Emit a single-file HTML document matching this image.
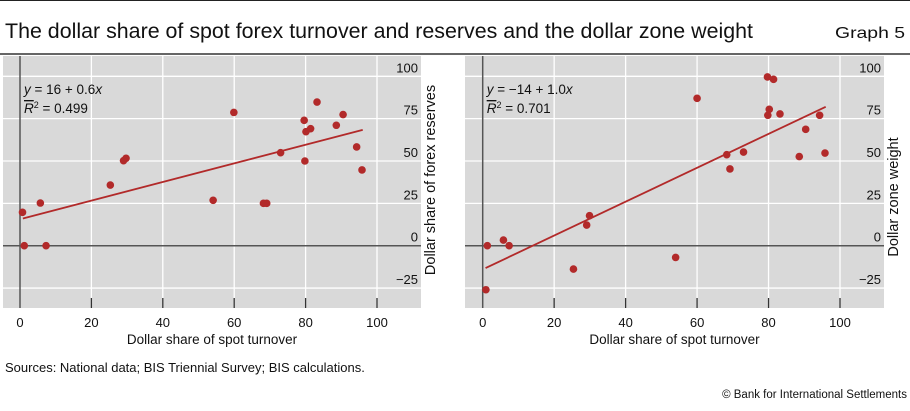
<!DOCTYPE html>
<html><head><meta charset="utf-8"><style>
body{margin:0;background:#fff;}
svg{display:block;font-family:"Liberation Sans",sans-serif;}
</style></head><body>
<svg id="chart" width="910" height="411" viewBox="0 0 910 411">
<line x1="0" y1="0.5" x2="910" y2="0.5" stroke="#222" stroke-width="1"/>
<text x="5" y="38" font-size="21" textLength="748" lengthAdjust="spacingAndGlyphs" fill="#111">The dollar share of spot forex turnover and reserves and the dollar zone weight</text>
<text x="905" y="38" font-size="16" text-anchor="end" textLength="70" lengthAdjust="spacingAndGlyphs" fill="#111">Graph 5</text>
<line x1="0" y1="54" x2="910" y2="54" stroke="#333" stroke-width="1.5"/>
<g id="p1"></g>
<g id="p2"></g>
<text x="5" y="372" font-size="13" fill="#111">Sources: National data; BIS Triennial Survey; BIS calculations.</text>
<text x="907" y="398" font-size="11.5" text-anchor="end" fill="#111">© Bank for International Settlements</text>
</svg>
<script>
const xTicks=[0,20,40,60,80,100];
const yTicks=[-25,0,25,50,75,100];
const leftX=[0.7,1.2,5.7,7.3,25.3,29.0,29.7,54.1,59.9,68.2,69.1,73.0,79.6,79.8,80.1,81.4,83.2,88.6,90.5,94.3,95.8];
const leftY=[19.7,0,25.2,0,35.8,50.2,51.6,26.8,78.7,25,25,54.9,74.0,50.0,67.3,69.1,84.8,71.1,77.4,58.3,44.7];
const leftFit=[15.6,0.55];
const rightX=[1.3,0.9,5.8,7.4,25.4,29.1,29.9,54.0,60.0,68.3,69.2,73.0,79.7,81.4,80.2,79.8,83.2,88.6,90.4,94.3,95.8];
const rightY=[0,-26,3.3,0,-13.8,12.2,17.7,-6.9,87,53.7,45.3,55.3,99.6,98.2,80.5,77,77.8,52.6,68.7,77,54.7];
const rightFit=[-14,1.0];
const fitRange=[0.8,96];
const NS="http://www.w3.org/2000/svg";
function mk(p,t,a){const e=document.createElementNS(NS,t);for(const k in a)e.setAttribute(k,a[k]);p.appendChild(e);return e;}
function panel(g,L,R,x0,x100,xs,ys,fit,eq,r2,ytitle,cy){
  const sx=v=>x0+(x100-x0)*v/100;
  const sy=v=>245.7-v*(169.4/100);
  const bg=mk(g,'rect',{x:L,y:56,width:R-L,height:252,fill:'#d9d9d9'});
  
  
  yTicks.forEach(t=>{const l=mk(g,'line',{x1:L,x2:R,y1:sy(t),y2:sy(t),stroke:'#fff','stroke-width':1.3});
    
    
    const tx=mk(g,'text',{x:R-3,y:sy(t)-4,'font-size':13,'text-anchor':'end',fill:'#111'});tx.textContent=t<0?'\u2212'+(-t):t;
    
    });
  xTicks.forEach(t=>{if(t>0){const l=mk(g,'line',{x1:sx(t),x2:sx(t),y1:56,y2:308,stroke:'#fff','stroke-width':1.3});
    
    
    const tk=mk(g,'line',{x1:sx(t),x2:sx(t),y1:298,y2:308,stroke:'#333','stroke-width':1.3});
    
    }
    const tx=mk(g,'text',{x:sx(t),y:327,'font-size':13,'text-anchor':'middle',fill:'#111'});tx.textContent=t;
    
    });
  const ya=mk(g,'line',{x1:sx(0),x2:sx(0),y1:56,y2:308,stroke:'#555','stroke-width':1.5});
  
  
  const xa=mk(g,'line',{x1:L,x2:R,y1:sy(0),y2:sy(0),stroke:'#555','stroke-width':1.5});
  
  
  const fl=mk(g,'line',{x1:sx(fitRange[0]),y1:sy(fit[0]+fit[1]*fitRange[0]),x2:sx(fitRange[1]),y2:sy(fit[0]+fit[1]*fitRange[1]),stroke:'#b22a2a','stroke-width':1.8});
  
  
  xs.forEach((v,i)=>{const c=mk(g,'circle',{cx:sx(v),cy:sy(ys[i]),r:3.8,fill:'#b22a2a'});
    
    });
  const e1=mk(g,'text',{x:sx(0)+4,y:94,'font-size':13.5,fill:'#111'});e1.innerHTML=eq;
  
  
  const e2=mk(g,'text',{x:sx(0)+4,y:113,'font-size':13.5,fill:'#111'});e2.innerHTML='<tspan text-decoration="overline" font-style="italic">R</tspan><tspan font-size="9" dy="-5">2</tspan><tspan dy="5"> = '+r2+'</tspan>';
  
  
  const xt=mk(g,'text',{x:(L+R)/2,y:344,'font-size':13.5,'text-anchor':'middle',fill:'#111'});xt.textContent='Dollar share of spot turnover';
  
  
  const yt=mk(g,'text',{x:0,y:0,'font-size':14.5,'text-anchor':'middle',fill:'#111',transform:'translate('+(R+14)+','+cy+') rotate(-90)'});yt.textContent=ytitle;
  
  
}
panel(document.getElementById('p1'),3,421,20,377,leftX,leftY,leftFit,'<tspan font-style="italic">y</tspan> = 16 + 0.6<tspan font-style="italic">x</tspan>','0.499','Dollar share of forex reserves',180);
panel(document.getElementById('p2'),465,884,482.7,840,rightX,rightY,rightFit,'<tspan font-style="italic">y</tspan> = \u221214 + 1.0<tspan font-style="italic">x</tspan>','0.701','Dollar zone weight',197);
</script>
</body></html>
